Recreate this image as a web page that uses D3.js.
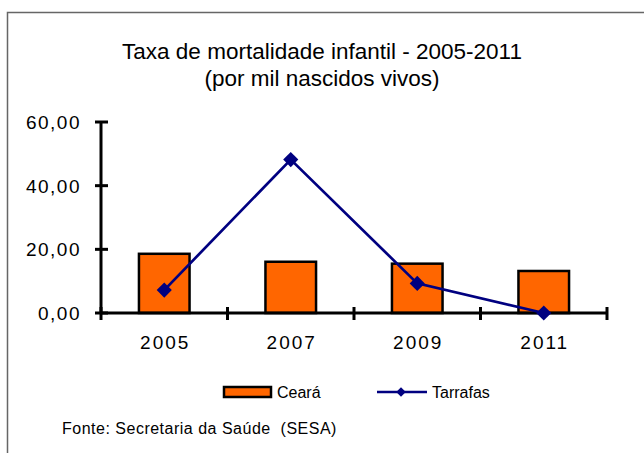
<!DOCTYPE html>
<html>
<head>
<meta charset="utf-8">
<script src="https://cdn.jsdelivr.net/npm/d3@7"></script>
<style>
  body { margin: 0; background: #fff; }
  svg { display: block; font-family: "Liberation Sans", Arial, sans-serif; }
</style>
</head>
<body>
<div id="chart"></div>
<script>
// chart data
const years = ['2005', '2007', '2009', '2011'];
const ceara = [18.6, 16.1, 15.5, 13.2];
const tarrafas = [7.2, 48.2, 9.3, 0.0];
const yTicks = [0, 20, 40, 60];
const titleLines = ['Taxa de mortalidade infantil - 2005-2011', '(por mil nascidos vivos)'];
const sourceText = 'Fonte: Secretaria da Saúde  (SESA)';

const width = 644, height = 453;
const plot = { left: 101, right: 607, top: 122, bottom: 313 };

const svg = d3.select('#chart').append('svg')
    .attr('width', width)
    .attr('height', height);

// outer frame (runs off right and bottom)
svg.append('rect')
    .attr('x', 7.5).attr('y', 12.5)
    .attr('width', 700).attr('height', 500)
    .attr('fill', 'none')
    .attr('stroke', '#666')
    .attr('stroke-width', 1.5);

// title
svg.append('g').selectAll('text')
    .data(titleLines)
    .enter().append('text')
    .attr('x', 322)
    .attr('y', (d, i) => 59 + i * 27)
    .attr('text-anchor', 'middle')
    .attr('font-size', '22.5px')
    .attr('fill', '#000')
    .text(d => d);

const x = d3.scaleBand()
    .domain(years)
    .range([plot.left, plot.right])
    .padding(0);

const y = d3.scaleLinear()
    .domain([0, 60])
    .range([plot.bottom, plot.top]);

const barW = x.bandwidth() * 0.4;

// bars
svg.append('g').selectAll('rect')
    .data(ceara)
    .enter().append('rect')
    .attr('x', (d, i) => x(years[i]) + (x.bandwidth() - barW) / 2)
    .attr('y', d => y(d))
    .attr('width', barW)
    .attr('height', d => y(0) - y(d))
    .attr('fill', '#ff6600')
    .attr('stroke', '#000')
    .attr('stroke-width', 2.5);

// axes
const axes = svg.append('g').attr('stroke', '#000').attr('stroke-width', 3);
axes.append('line')
    .attr('x1', plot.left).attr('x2', plot.left)
    .attr('y1', y(60)).attr('y2', y(0));
axes.append('line')
    .attr('x1', plot.left).attr('x2', plot.right)
    .attr('y1', y(0)).attr('y2', y(0));

// y ticks (crossing)
axes.selectAll('.yt')
    .data(yTicks)
    .enter().append('line')
    .attr('x1', plot.left - 6).attr('x2', plot.left + 7)
    .attr('y1', d => y(d)).attr('y2', d => y(d));

// x ticks between categories
const xTickPos = years.map(d => x(d)).concat([plot.right]);
axes.selectAll('.xt')
    .data(xTickPos)
    .enter().append('line')
    .attr('x1', d => d).attr('x2', d => d)
    .attr('y1', y(0) - 6).attr('y2', y(0) + 7);

// y labels
const fmt = v => v.toFixed(2).replace('.', ',');
svg.append('g').selectAll('text')
    .data(yTicks)
    .enter().append('text')
    .attr('x', 81)
    .attr('y', d => y(d) + 7)
    .attr('text-anchor', 'end')
    .attr('font-size', '19px')
    .attr('letter-spacing', '1.5px')
    .text(d => fmt(d));

// x labels
svg.append('g').selectAll('text')
    .data(years)
    .enter().append('text')
    .attr('x', d => x(d) + x.bandwidth() / 2 + 1)
    .attr('y', 349)
    .attr('text-anchor', 'middle')
    .attr('font-size', '19px')
    .attr('letter-spacing', '2px')
    .text(d => d);

// line series
const line = d3.line()
    .x((d, i) => x(years[i]) + x.bandwidth() / 2)
    .y(d => y(d));

svg.append('path')
    .datum(tarrafas)
    .attr('d', line)
    .attr('fill', 'none')
    .attr('stroke', '#000080')
    .attr('stroke-width', 2.7);

const diamond = d3.symbol().type(d3.symbolSquare).size(115);
svg.append('g').selectAll('path')
    .data(tarrafas)
    .enter().append('path')
    .attr('d', diamond)
    .attr('transform', (d, i) => `translate(${x(years[i]) + x.bandwidth() / 2},${y(d)}) rotate(45)`)
    .attr('fill', '#000080');

// legend
const legend = svg.append('g').attr('font-size', '16px');
legend.append('rect')
    .attr('x', 224).attr('y', 387)
    .attr('width', 47).attr('height', 10)
    .attr('fill', '#ff6600')
    .attr('stroke', '#000')
    .attr('stroke-width', 2.5);
legend.append('text')
    .attr('x', 277).attr('y', 398)
    .text('Ceará');
legend.append('line')
    .attr('x1', 377).attr('x2', 427)
    .attr('y1', 392).attr('y2', 392)
    .attr('stroke', '#000080')
    .attr('stroke-width', 2.5);
legend.append('path')
    .attr('d', d3.symbol().type(d3.symbolSquare).size(45))
    .attr('transform', 'translate(401,392) rotate(45)')
    .attr('fill', '#000080');
legend.append('text')
    .attr('x', 432).attr('y', 398)
    .text('Tarrafas');

// source note
svg.append('text')
    .attr('x', 62).attr('y', 434)
    .attr('font-size', '16px')
    .attr('letter-spacing', '0.5px')
    .style('white-space', 'pre')
    .text(sourceText);
</script>
</body>
</html>
